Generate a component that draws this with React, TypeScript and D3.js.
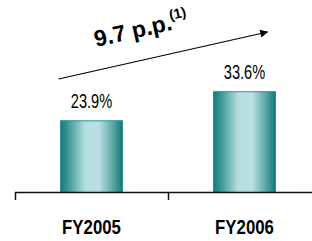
import React, { useEffect, useRef } from 'react';
import * as d3 from 'd3';

const categories = ['FY2005', 'FY2006'];
const values = [23.9, 33.6];
const valueLabels = ['23.9%', '33.6%'];
const changeLabel = '9.7 p.p.';
const changeNote = '(1)';

const W = 312;
const H = 241;

const App: React.FC = () => {
  const svgRef = useRef<SVGSVGElement>(null);

  useEffect(() => {
    if (!svgRef.current) return;
    const svg = d3.select(svgRef.current);
    svg.selectAll('*').remove();

    const x = d3.scaleBand<string>().domain(categories).range([15, 321]).padding(0);
    const y = d3.scaleLinear().domain([0, 40]).range([192, 72]);
    const barW = x.bandwidth() * 0.41;

    const defs = svg.append('defs');
    const grad = defs.append('linearGradient').attr('id', 'barGrad')
      .attr('x1', '0%').attr('x2', '100%').attr('y1', '0%').attr('y2', '0%');
    [
      ['0%', '#0e7a7a'],
      ['12%', '#3b9595'],
      ['40%', '#b5dde0'],
      ['62%', '#b9e0e3'],
      ['88%', '#4a9a9a'],
      ['100%', '#0f7676'],
    ].forEach(([o, c]) => grad.append('stop').attr('offset', o).attr('stop-color', c));

    const marker = defs.append('marker').attr('id', 'arrowHead')
      .attr('viewBox', '0 0 10 10').attr('refX', 9).attr('refY', 5)
      .attr('markerWidth', 10).attr('markerHeight', 8).attr('markerUnits', 'userSpaceOnUse')
      .attr('orient', 'auto');
    marker.append('path').attr('d', 'M0,0 L10,5 L0,10 Z').attr('fill', '#000');

    const cx = (c: string) => (x(c) ?? 0) + x.bandwidth() / 2;
    const font = '"Liberation Sans", Arial, sans-serif';

    // bars
    svg.selectAll('.bar').data(values).enter().append('rect')
      .attr('x', (_d, i) => cx(categories[i]) - barW / 2)
      .attr('y', d => y(d))
      .attr('width', barW)
      .attr('height', d => y(0) - y(d))
      .attr('fill', 'url(#barGrad)');
    svg.selectAll('.barTop').data(values).enter().append('line')
      .attr('x1', (_d, i) => cx(categories[i]) - barW / 2)
      .attr('x2', (_d, i) => cx(categories[i]) + barW / 2)
      .attr('y1', d => y(d) + 0.5).attr('y2', d => y(d) + 0.5)
      .attr('stroke', '#3a9c9c').attr('stroke-width', 1);

    // value labels (narrow face emulated with a horizontal squeeze)
    svg.selectAll('.val').data(values).enter().append('text')
      .attr('transform', (d, i) => `translate(${cx(categories[i])},${y(d) - 12}) scale(0.73,1)`)
      .attr('text-anchor', 'middle')
      .attr('font-family', font)
      .attr('font-size', 20)
      .attr('fill', '#000')
      .text((_d, i) => valueLabels[i]);

    // axis
    svg.append('line').attr('x1', 15).attr('x2', W).attr('y1', 192.5).attr('y2', 192.5)
      .attr('stroke', '#111').attr('stroke-width', 1.5);
    categories.forEach(c => {
      const tx = Math.round(x(c) ?? 0) + 0.5;
      svg.append('line').attr('x1', tx).attr('x2', tx).attr('y1', 192).attr('y2', 200)
        .attr('stroke', '#111').attr('stroke-width', 1.5);
    });
    svg.selectAll('.cat').data(categories).enter().append('text')
      .attr('transform', d => `translate(${cx(d)},234) scale(0.84,1)`)
      .attr('text-anchor', 'middle')
      .attr('font-family', font)
      .attr('font-size', 20)
      .attr('font-weight', 'bold')
      .attr('fill', '#000')
      .text(d => d);

    // growth arrow
    const x0 = cx(categories[0]) - 33, y0 = 79;
    const x1 = cx(categories[1]) + 23, y1 = 32;
    svg.append('line').attr('x1', x0).attr('y1', y0).attr('x2', x1).attr('y2', y1)
      .attr('stroke', '#000').attr('stroke-width', 1.2)
      .attr('marker-end', 'url(#arrowHead)');
    const ang = Math.atan2(y1 - y0, x1 - x0) * 180 / Math.PI;
    const t = svg.append('text')
      .attr('transform', `translate(96,47) rotate(${ang})`)
      .attr('font-family', font)
      .attr('font-weight', 'bold')
      .attr('font-size', 23)
      .attr('fill', '#000');
    t.append('tspan').text(changeLabel);
    t.append('tspan').attr('font-size', 14).attr('dy', -10).attr('dx', -1).text(changeNote);
  }, []);

  return (
    <div style={{ position: 'absolute', left: 0, top: 0, width: W, height: H, background: '#fff' }}>
      <svg ref={svgRef} width={W} height={H}></svg>
    </div>
  );
};

export default App;
